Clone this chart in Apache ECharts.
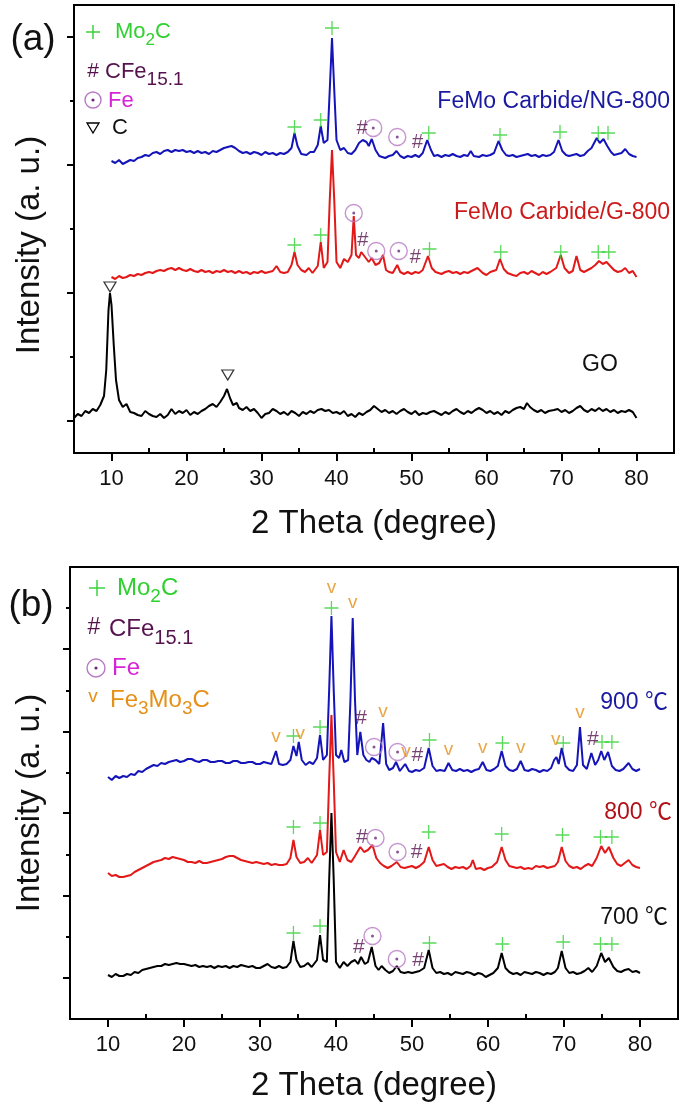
<!DOCTYPE html>
<html>
<head>
<meta charset="utf-8">
<script src="https://cdn.jsdelivr.net/npm/echarts@6/dist/echarts.min.js"></script>
<style>
  html, body { margin: 0; padding: 0; background: #fff; }
  #chart { width: 685px; height: 1109px; }
</style>
</head>
<body>
<div id="chart"></div>
<script>
// ---- panel (a): intensity in arbitrary units, 2 theta in degrees ----
const aNG800 = [[10,292],[10.5,290],[11,293],[11.5,289],[12,291],[12.5,293],[13,292],[13.5,295],[14,296],[14.5,298],[15,297],[15.5,300],[16,301],[16.5,299],[17,302],[17.5,303],[18,301],[18.5,303],[19,302],[19.5,303],[20,301],[20.5,302],[21,300],[21.5,302],[22,300],[22.5,301],[23,299],[23.5,302],[24,301],[24.5,303],[25,305],[25.5,306],[26,307],[26.5,305],[27,302],[27.5,300],[28,301],[28.5,299],[29,301],[29.5,300],[30,298],[30.5,301],[31,299],[31.5,300],[32,298],[32.5,300],[33,299],[33.5,301],[34,305],[34.4,320],[34.8,307],[35.3,299],[36,298],[36.5,301],[37,301],[37.5,308],[37.9,327],[38.3,310],[38.8,313],[39.1,363],[39.4,415],[39.7,363],[40,313],[40.5,303],[41,305],[41.5,300],[42,299],[42.5,303],[43,310],[43.5,313],[44,311],[44.3,307],[44.7,314],[45.2,303],[45.7,297],[46.5,295],[47,297],[47.5,298],[48,302],[48.5,297],[49,295],[49.5,297],[50,296],[50.5,298],[51,296],[51.5,300],[52.1,313],[52.6,303],[53,297],[53.5,298],[54,296],[54.5,298],[55,297],[55.5,299],[56,297],[56.5,296],[57,298],[57.5,297],[57.9,302],[58.3,297],[59,296],[59.5,298],[60,297],[60.5,298],[61,300],[61.6,312],[62.1,303],[62.6,298],[63,297],[63.5,298],[64,296],[64.5,297],[65,298],[65.5,299],[66,297],[66.5,298],[67,296],[67.5,298],[68,297],[68.5,298],[69,301],[69.6,313],[70.1,302],[70.6,298],[71,297],[71.5,298],[72,299],[72.5,297],[73,298],[73.5,302],[74,305],[74.7,315],[75.1,310],[75.6,314],[76.1,307],[76.6,301],[77,298],[77.5,299],[78,300],[78.5,304],[79,299],[79.5,297],[80,296]];
const aG800 = [[10,176],[10.5,174],[11,177],[11.5,175],[12,176],[12.5,178],[13,177],[13.5,179],[14,178],[14.5,180],[15,181],[15.5,180],[16,182],[16.5,183],[17,182],[17.5,184],[18,185],[18.5,183],[19,185],[19.5,183],[20,182],[20.5,184],[21,182],[21.5,181],[22,183],[22.5,181],[23,182],[23.5,180],[24,182],[24.5,181],[25,183],[25.5,181],[26,182],[26.5,180],[27,182],[27.5,180],[28,181],[28.5,179],[29,181],[29.5,180],[30,182],[30.5,180],[31,181],[31.5,182],[32,187],[32.5,181],[33,180],[33.5,181],[34,188],[34.4,201],[34.8,188],[35.3,183],[35.8,181],[36.3,185],[36.8,180],[37.5,187],[37.9,211],[38.3,185],[38.8,191],[39.1,253],[39.4,303],[39.7,253],[40,191],[40.5,185],[41,194],[41.5,191],[42,198],[42.3,237],[42.6,198],[43,195],[43.3,201],[43.8,196],[44.3,191],[44.7,195],[45.2,188],[45.7,190],[46.2,198],[46.6,183],[47,181],[47.5,180],[48.1,188],[48.5,181],[49,179],[49.5,181],[50,179],[50.5,181],[51,180],[51.5,183],[52.2,197],[52.7,185],[53.2,181],[54,179],[54.5,181],[55,182],[55.5,180],[56,181],[56.5,179],[57,181],[57.5,180],[58,182],[58.8,185],[59.5,180],[60,178],[60.5,181],[61.3,183],[61.8,194],[62.3,184],[62.8,180],[63.5,178],[64,177],[64.5,180],[65,181],[65.5,179],[66,182],[66.5,180],[67,178],[67.5,181],[68,179],[68.5,181],[69.3,185],[69.9,198],[70.4,185],[71,180],[71.5,182],[72,197],[72.5,183],[73,181],[73.5,183],[74,185],[74.5,188],[75,192],[75.5,189],[76,191],[76.5,187],[77,183],[77.5,181],[78,182],[78.5,185],[79,180],[79.5,182],[80,176]];
const aGO = [[5,35],[5.5,39],[6,37],[6.5,42],[7,40],[7.5,44],[8,42],[8.5,48],[9,57],[9.3,83],[9.6,143],[9.8,160],[10,148],[10.3,108],[10.6,73],[11,53],[11.5,46],[12,49],[12.5,41],[13,40],[13.5,38],[14,37],[14.5,42],[15,39],[15.5,37],[16,36],[16.5,39],[17,35],[17.5,38],[18,44],[18.5,39],[19,42],[19.5,40],[20,43],[20.5,38],[21,41],[21.5,39],[22,42],[22.5,44],[23,47],[23.5,49],[24,46],[24.5,51],[25,57],[25.4,64],[25.8,55],[26.2,48],[26.7,50],[27,45],[27.5,43],[28,46],[28.5,42],[29,44],[29.5,40],[30,35],[30.5,39],[31,40],[31.5,44],[32,42],[32.5,39],[33,41],[33.5,38],[34,42],[34.5,40],[35,37],[35.5,41],[36,39],[36.5,42],[37,40],[37.5,43],[38,44],[38.5,42],[39,43],[39.5,40],[40,41],[40.5,39],[41,42],[41.5,37],[42,39],[42.5,36],[43,40],[43.5,38],[44,41],[44.5,43],[45,47],[45.5,44],[46,41],[46.5,43],[47,40],[47.5,42],[48,39],[48.5,42],[49,44],[49.5,41],[50,39],[50.5,42],[51,38],[51.5,40],[52,39],[52.5,41],[53,42],[53.5,40],[54,38],[54.5,41],[55,39],[55.5,42],[56,44],[56.5,41],[57,39],[57.5,42],[58,40],[58.5,43],[59,45],[59.5,43],[60,40],[60.5,42],[61,39],[61.5,41],[62,38],[62.5,42],[63,40],[63.5,43],[64,45],[64.5,46],[65,44],[65.4,50],[65.8,46],[66.3,43],[66.8,41],[67.3,43],[67.8,40],[68.3,42],[69,43],[69.5,44],[70,41],[70.5,43],[71,40],[71.5,42],[72,45],[72.5,47],[73,43],[73.5,41],[74,44],[74.5,42],[75,45],[75.5,42],[76,44],[76.5,41],[77,43],[77.5,40],[78,42],[78.5,41],[79,43],[79.5,41],[80,35]];

// peak markers, panel (a)
const aPlus = [[34.4,326],[37.9,333],[39.4,425],[52.3,320],[61.8,318],[69.8,321],[74.9,320],[76.2,320],
               [34.4,208],[37.9,218],[52.4,204],[61.9,201],[69.9,201],[74.9,201],[76.3,201]];
const aHash = [[43.4,325],[50.8,311],[43.5,213],[50.5,196]];
const aFe = [[44.9,325],[48.1,316],[42.3,240],[45.3,202],[48.3,202]];
const aC = [[9.8,166],[25.5,78]];

// ---- panel (b) ----
const b900 = [[10,242],[10.5,239],[11,243],[11.5,241],[12,243],[12.5,242],[13,245],[13.5,244],[14,248],[14.5,247],[15,250],[15.5,252],[16,254],[16.5,253],[17,256],[17.5,255],[18,257],[18.5,258],[19,259],[19.5,257],[20,258],[20.5,260],[21,260],[21.5,258],[22,257],[22.5,259],[23,259],[23.5,257],[24,257],[24.5,258],[25,258],[25.5,256],[26,256],[26.5,258],[27,258],[27.5,256],[28,256],[28.5,257],[29,257],[29.5,255],[30,255],[30.5,257],[31,256],[31.5,255],[32.1,268],[32.5,255],[33,254],[33.5,255],[34,259],[34.4,273],[34.8,263],[35.1,277],[35.5,259],[36,254],[36.5,257],[37,255],[37.5,261],[37.9,284],[38.3,259],[38.8,264],[39.1,329],[39.4,403],[39.7,329],[40,264],[40.4,261],[40.7,269],[41.1,257],[41.6,259],[41.9,319],[42.2,401],[42.5,319],[42.8,264],[43.2,287],[43.6,264],[44,259],[44.4,257],[44.7,261],[45.2,259],[45.7,255],[46.2,296],[46.6,255],[47,249],[47.5,251],[47.9,257],[48.4,248],[49.1,255],[49.6,248],[50,247],[50.5,249],[51,248],[51.6,251],[52.2,271],[52.7,253],[53.2,248],[53.7,249],[54.3,248],[54.8,256],[55.3,249],[55.8,248],[56.3,250],[56.8,248],[57.3,249],[57.8,247],[58.3,249],[58.8,250],[59.3,257],[59.8,249],[60.3,248],[60.8,250],[61.3,253],[61.8,268],[62.3,253],[62.8,249],[63.3,248],[63.8,250],[64.3,258],[64.8,249],[65.3,248],[65.8,250],[66.3,249],[66.8,247],[67.3,249],[67.8,248],[68.3,251],[68.7,259],[69,262],[69.3,255],[69.7,271],[70.2,253],[70.7,249],[71.2,248],[71.7,254],[72.1,292],[72.5,254],[73,250],[73.6,266],[74.1,254],[74.5,259],[74.9,268],[75.3,259],[75.8,267],[76.3,253],[76.8,249],[77.3,248],[77.8,250],[78.5,256],[79,250],[79.5,248],[80,250]];
const b800 = [[10,146],[10.5,143],[11,144],[11.5,142],[12,142],[12.5,143],[13,144],[13.5,147],[14,149],[14.5,151],[15,153],[15.5,155],[16,157],[16.5,158],[17,159],[17.5,161],[18,160],[18.5,162],[19,161],[19.5,160],[20,159],[20.5,157],[21,157],[21.5,156],[22,158],[22.5,156],[23,156],[23.5,157],[24,158],[24.5,159],[25,160],[25.5,162],[26,163],[26.5,163],[27,161],[27.5,159],[28,158],[28.5,157],[29,156],[29.5,157],[30,156],[30.5,155],[31,156],[31.5,154],[32,155],[32.5,154],[33,154],[33.5,155],[34,161],[34.4,179],[34.8,162],[35.3,156],[35.8,157],[36.3,161],[36.8,156],[37.5,164],[37.9,189],[38.3,164],[38.8,167],[39.1,239],[39.4,304],[39.7,239],[40,167],[40.5,157],[41,169],[41.5,159],[42,157],[42.5,163],[43.2,172],[43.7,167],[44.2,169],[44.8,174],[45.3,161],[45.8,156],[46.3,153],[46.8,151],[47.3,153],[48,157],[48.5,152],[49,151],[49.5,152],[50,153],[50.5,151],[51,153],[51.6,157],[52.2,172],[52.7,159],[53.2,153],[53.7,154],[54.2,155],[54.7,152],[55.2,150],[55.7,152],[56.2,151],[56.7,152],[57.2,150],[57.7,153],[58,159],[58.4,150],[59,151],[59.5,149],[60,151],[60.5,152],[61.2,157],[61.8,172],[62.3,159],[62.8,153],[63.3,152],[63.8,151],[64.3,152],[64.8,150],[65.3,151],[65.8,150],[66.3,153],[66.8,152],[67.3,153],[67.8,151],[68.3,152],[68.8,153],[69.2,157],[69.7,172],[70.2,158],[70.7,153],[71.2,151],[71.7,152],[72.2,150],[72.7,153],[73.2,155],[73.7,153],[74.3,161],[74.9,173],[75.4,166],[75.9,172],[76.5,161],[77,155],[77.5,153],[78,156],[78.5,159],[79,154],[79.5,152],[80,151]];
const b700 = [[10,44],[10.5,42],[11,45],[11.5,43],[12,43],[12.5,45],[13,44],[13.5,47],[14,46],[14.5,49],[15,50],[15.5,51],[16,52],[16.5,53],[17,53],[17.5,55],[18,54],[18.5,55],[19,56],[19.5,55],[20,55],[20.5,54],[21,53],[21.5,54],[22,52],[22.5,53],[23,52],[23.5,53],[24,51],[24.5,53],[25,52],[25.5,53],[26,51],[26.5,53],[27,52],[27.5,54],[28,53],[28.5,52],[29,53],[29.5,51],[30,51],[30.5,53],[31,55],[31.5,52],[32,51],[32.5,53],[33,51],[33.5,52],[34,57],[34.4,78],[34.8,59],[35.3,52],[35.8,53],[36.3,56],[36.8,52],[37.5,59],[37.9,84],[38.3,59],[38.8,57],[39.1,139],[39.4,206],[39.7,139],[40,57],[40.5,51],[41,57],[41.5,53],[42,57],[42.5,59],[42.9,55],[43.3,62],[43.8,55],[44.2,57],[44.7,72],[45.2,53],[45.6,49],[46,53],[46.5,49],[47,46],[47.5,48],[48,53],[48.5,47],[49,46],[49.5,47],[50,46],[50.5,47],[51,48],[51.6,51],[52.2,69],[52.7,51],[53.2,46],[53.7,47],[54.2,45],[54.7,46],[55.2,44],[55.7,47],[56.2,46],[56.7,45],[57.2,47],[57.7,46],[58.2,44],[58.7,46],[59.2,45],[59.7,42],[60.2,44],[60.7,46],[61.3,51],[61.8,66],[62.3,51],[62.8,47],[63.3,45],[63.8,46],[64.3,44],[64.8,47],[65.3,46],[65.8,45],[66.3,47],[66.8,46],[67.3,44],[67.8,46],[68.3,45],[68.8,47],[69.2,51],[69.7,68],[70.2,51],[70.7,46],[71.2,47],[71.7,45],[72.2,46],[72.7,48],[73.2,51],[73.7,47],[74.3,53],[74.9,66],[75.4,57],[75.9,61],[76.5,52],[77,48],[77.5,47],[78,49],[78.5,50],[79,47],[79.5,48],[80,46]];

// peak markers, panel (b)
const bPlus = [[34.4,283],[37.9,292],[39.4,411],[52.3,279],[61.9,276],[69.9,276],[75.0,277],[76.3,277],
               [34.4,192],[37.9,196],[52.2,187],[61.8,185],[69.8,184],[74.8,182],[76.3,182],
               [34.4,86],[37.9,93],[52.3,76],[61.9,75],[69.9,77],[74.8,75],[76.3,75]];
const bHash = [[43.3,301],[50.7,264],[73.8,280],[43.4,182],[50.6,167],[43.0,72],[50.8,59]];
const bFe = [[45.0,272],[48.1,267],[45.2,181],[48.1,167],[44.8,83],[48.0,60]];
const bV = [[32.1,282],[35.3,285],[39.4,431],[42.2,416],[46.2,307],[49.2,267],[54.8,269],[59.3,271],[64.3,271],[68.9,279],[72.1,306]];

// axis ticks
const xMajor = [10, 20, 30, 40, 50, 60, 70, 80];
const xMinor = [5, 15, 25, 35, 45, 55, 65, 75, 85];
const aYMajor = [32, 160, 288, 416];
const aYMinor = [96, 224, 352];
const bYMajor = [41, 123, 206, 287, 370];
const bYMinor = [82, 164, 246, 328, 411];

const FONT = "'Liberation Sans', Arial, 'Noto Sans CJK SC', sans-serif";
const GREEN = '#2fd02f', PURPLE = '#55124d', RING = '#b87ac6', DOT = '#6b2a7a';
const MAGENTA = '#d524d5', ORANGE = '#e59016';
const BLUE = '#1414b8', RED = '#e31818', BLACK = '#000';
const PLUS = 'path://M6.35,0H7.65V14H6.35Z M0,6.35H14V7.65H0Z';

const chart = echarts.init(document.getElementById('chart'));
const measure = document.createElement('canvas').getContext('2d');

function xAxes(grid) {
  return [
    { gridIndex: grid, type: 'value', min: 5, max: 85,
      axisLine: { lineStyle: { color: '#000', width: 2 } },
      axisTick: { customValues: xMajor, length: 8, lineStyle: { color: '#000', width: 2 } },
      axisLabel: { customValues: xMajor, fontSize: 22, color: '#111', margin: 15, fontFamily: FONT },
      splitLine: { show: false } },
    { gridIndex: grid, type: 'value', min: 5, max: 85,
      axisLine: { show: false },
      axisTick: { customValues: xMinor, length: 5, lineStyle: { color: '#000', width: 2 } },
      axisLabel: { show: false }, splitLine: { show: false } }
  ];
}
function yAxes(grid, max, major, minor) {
  return [
    { gridIndex: grid, type: 'value', min: 0, max: max, position: 'left',
      axisLine: { show: true, lineStyle: { color: '#000', width: 2 } },
      axisTick: { show: true, customValues: major, length: 7, lineStyle: { color: '#000', width: 2 } },
      axisLabel: { show: false }, splitLine: { show: false } },
    { gridIndex: grid, type: 'value', min: 0, max: max, position: 'left', offset: 0,
      axisLine: { show: false },
      axisTick: { show: true, customValues: minor, length: 4, lineStyle: { color: '#000', width: 2 } },
      axisLabel: { show: false }, splitLine: { show: false } }
  ];
}

function curve(data, color, ax) {
  return { type: 'line', data: data, xAxisIndex: ax, yAxisIndex: ax, symbol: 'none',
           lineStyle: { color: color, width: 2 }, silent: true, z: 2 };
}
function plusMarks(data, ax) {
  return { type: 'scatter', data: data, xAxisIndex: ax, yAxisIndex: ax, symbol: PLUS,
           symbolSize: 14, itemStyle: { color: GREEN }, z: 5 };
}
function textMarks(data, txt, color, size, ax) {
  return { type: 'scatter', data: data, xAxisIndex: ax, yAxisIndex: ax, symbol: 'circle', symbolSize: 1,
           itemStyle: { color: 'rgba(0,0,0,0)' }, z: 5,
           label: { show: true, position: 'inside', formatter: txt, color: color, fontSize: size, fontFamily: FONT } };
}
function feMarks(data, ax) {
  return [
    { type: 'scatter', data: data, xAxisIndex: ax, yAxisIndex: ax, symbol: 'circle', symbolSize: 17,
      itemStyle: { color: 'rgba(255,255,255,0)', borderColor: RING, borderWidth: 1.4 }, z: 5 },
    { type: 'scatter', data: data, xAxisIndex: ax, yAxisIndex: ax, symbol: 'circle', symbolSize: 3,
      itemStyle: { color: DOT }, z: 6 }
  ];
}
function triMarks(data, ax) {
  return { type: 'scatter', data: data, xAxisIndex: ax, yAxisIndex: ax, symbol: 'path://M0,0L12,0L6,10Z',
           symbolSize: [12, 10], itemStyle: { color: 'rgba(255,255,255,0)', borderColor: '#000', borderWidth: 1.2 }, z: 5 };
}

// text with subscripts: parts = [[text, isSub], ...]
function formula(x, yc, parts, color, base, sub, drop) {
  const out = [];
  let cx = x;
  parts.forEach(function (p) {
    const size = p[1] ? sub : base;
    out.push({ type: 'text', x: cx, y: yc + (p[1] ? drop : 0), z: 10,
      style: { text: p[0], fill: color, fontSize: size, fontFamily: FONT, align: 'left', verticalAlign: 'middle' } });
    measure.font = size + 'px ' + FONT;
    cx += measure.measureText(p[0]).width;
  });
  return out;
}
function label(x, y, text, color, size, align) {
  return { type: 'text', x: x, y: y, z: 10,
    style: { text: text, fill: color, fontSize: size, fontFamily: FONT, align: align || 'left', verticalAlign: 'middle' } };
}
function plusIcon(cx, cy, s) {
  return [
    { type: 'line', shape: { x1: cx - s, y1: cy, x2: cx + s, y2: cy }, style: { stroke: GREEN, lineWidth: 1.4 } },
    { type: 'line', shape: { x1: cx, y1: cy - s, x2: cx, y2: cy + s }, style: { stroke: GREEN, lineWidth: 1.4 } }
  ];
}
function ringIcon(cx, cy, r) {
  return [
    { type: 'circle', shape: { cx: cx, cy: cy, r: r }, style: { fill: 'none', stroke: RING, lineWidth: 1.4 } },
    { type: 'circle', shape: { cx: cx, cy: cy, r: 1.6 }, style: { fill: DOT } }
  ];
}

const graphics = [
  label(33, 40, '(a)', '#111', 37, 'center'),
  label(31, 606, '(b)', '#111', 37, 'center'),
  { type: 'text', x: 30, y: 245, rotation: Math.PI / 2,
    style: { text: 'Intensity (a. u.)', fill: '#111', fontSize: 33, fontFamily: FONT, align: 'center', verticalAlign: 'middle' } },
  { type: 'text', x: 30, y: 803, rotation: Math.PI / 2,
    style: { text: 'Intensity (a. u.)', fill: '#111', fontSize: 33, fontFamily: FONT, align: 'center', verticalAlign: 'middle' } },
  label(374, 524, '2 Theta (degree)', '#111', 33, 'center'),
  label(374, 1086, '2 Theta (degree)', '#111', 33, 'center'),
  // legend (a)
  ...plusIcon(93, 32, 7),
  ...formula(115, 32, [['Mo', 0], ['2', 1], ['C', 0]], GREEN, 22, 17, 8),
  label(93, 71, '#', PURPLE, 21, 'center'),
  ...formula(105, 72, [['CFe', 0], ['15.1', 1]], PURPLE, 22, 19, 8),
  ...ringIcon(93, 100, 8),
  label(108, 101, 'Fe', MAGENTA, 22),
  { type: 'polygon', shape: { points: [[87, 123], [99, 123], [93, 133]] }, style: { fill: 'none', stroke: '#000', lineWidth: 1.3 } },
  label(112, 128, 'C', '#111', 22),
  // legend (b)
  ...plusIcon(97, 588, 8),
  ...formula(117, 588, [['Mo', 0], ['2', 1], ['C', 0]], GREEN, 24, 19, 9),
  label(94, 628, '#', PURPLE, 23, 'center'),
  ...formula(109, 629, [['CFe', 0], ['15.1', 1]], PURPLE, 24, 20, 9),
  ...ringIcon(96, 668, 9),
  label(112, 668, 'Fe', MAGENTA, 24),
  label(93, 697, 'v', ORANGE, 19, 'center'),
  ...formula(110, 700, [['Fe', 0], ['3', 1], ['Mo', 0], ['3', 1], ['C', 0]], ORANGE, 24, 19, 9),
  // curve names
  label(670, 102, 'FeMo Carbide/NG-800', '#1a1aa0', 23, 'right'),
  label(670, 213, 'FeMo Carbide/G-800', '#cc1a1a', 23, 'right'),
  label(600, 365, 'GO', '#111', 23, 'center'),
  label(668, 703, '900 ℃', '#1a1aa0', 23, 'right'),
  label(672, 813, '800 ℃', '#b01016', 23, 'right'),
  label(668, 918, '700 ℃', '#111', 23, 'right')
];

const option = {
  animation: false,
  backgroundColor: '#fff',
  textStyle: { fontFamily: FONT },
  grid: [
    { left: 74, top: 5, width: 600, height: 448, show: true, borderColor: '#000', borderWidth: 2 },
    { left: 70, top: 567, width: 608, height: 452, show: true, borderColor: '#000', borderWidth: 2 }
  ],
  xAxis: [...xAxes(0), ...xAxes(1)],
  yAxis: [...yAxes(0, 448, aYMajor, aYMinor), ...yAxes(1, 452, bYMajor, bYMinor)],
  series: [
    curve(aNG800, BLUE, 0),
    curve(aG800, RED, 0),
    curve(aGO, BLACK, 0),
    plusMarks(aPlus, 0),
    textMarks(aHash, '#', PURPLE, 20, 0),
    ...feMarks(aFe, 0),
    triMarks(aC, 0),
    curve(b900, BLUE, 2),
    curve(b800, RED, 2),
    curve(b700, BLACK, 2),
    plusMarks(bPlus, 2),
    textMarks(bHash, '#', PURPLE, 21, 2),
    ...feMarks(bFe, 2),
    textMarks(bV, 'v', ORANGE, 19, 2)
  ],
  graphic: graphics
};
chart.setOption(option);
</script>
</body>
</html>
